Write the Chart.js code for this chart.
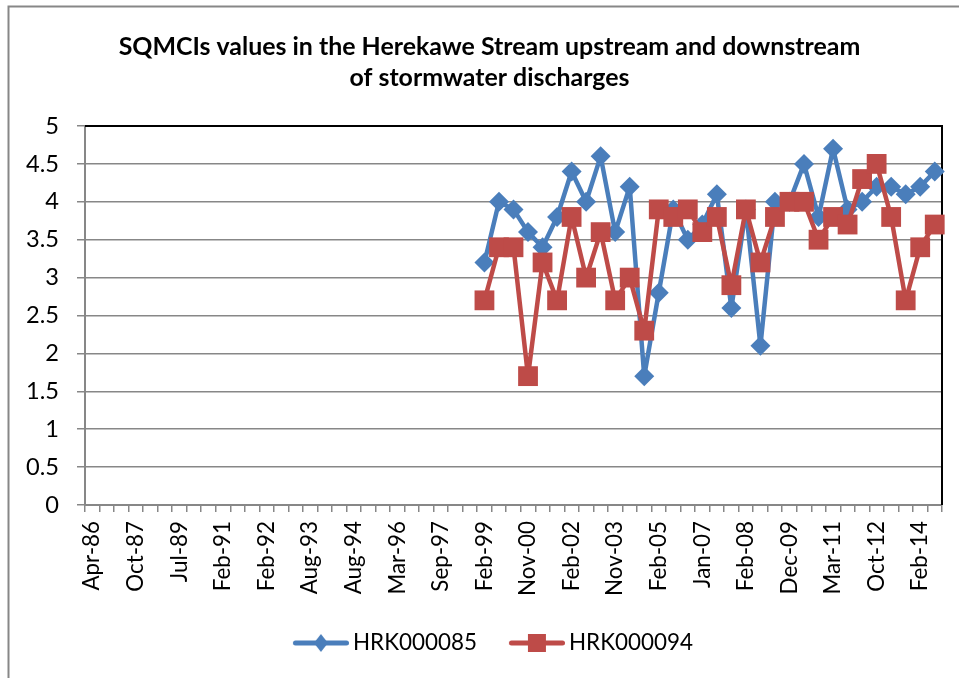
<!DOCTYPE html>
<html><head><meta charset="utf-8">
<script src="https://cdn.jsdelivr.net/npm/chart.js@4/dist/chart.umd.min.js"></script>
<style>html,body{margin:0;padding:0;background:#fff;overflow:hidden}</style>
</head><body>
<canvas id="c" width="959" height="678"></canvas>
<script>
// ---- data ----
const titleLines = ['SQMCIs values in the Herekawe Stream upstream and downstream', 'of stormwater discharges'];
const tickLabels = ['Apr-86','Oct-87','Jul-89','Feb-91','Feb-92','Aug-93','Aug-94','Mar-96','Sep-97','Feb-99',
                    'Nov-00','Feb-02','Nov-03','Feb-05','Jan-07','Feb-08','Dec-09','Mar-11','Oct-12','Feb-14'];
const categoryCount = 59;      // sampling occasions on the category axis
const labelEvery = 3;          // one date label per three categories
const unsampledBefore = 27;    // occasions with no value for either site
const seriesNames = ['HRK000085', 'HRK000094'];
const hrk000085 = [3.2, 4.0, 3.9, 3.6, 3.4, 3.8, 4.4, 4.0, 4.6, 3.6, 4.2, 1.7, 2.8, 3.9, 3.5, 3.7,
                   4.1, 2.6, 3.9, 2.1, 4.0, 4.0, 4.5, 3.8, 4.7, 3.9, 4.0, 4.2, 4.2, 4.1, 4.2, 4.4];
const hrk000094 = [2.7, 3.4, 3.4, 1.7, 3.2, 2.7, 3.8, 3.0, 3.6, 2.7, 3.0, 2.3, 3.9, 3.8, 3.9, 3.6,
                   3.8, 2.9, 3.9, 3.2, 3.8, 4.0, 4.0, 3.5, 3.8, 3.7, 4.3, 4.5, 3.8, 2.7, 3.4, 3.7];
const yMin = 0, yMax = 5, yStep = 0.5;

const categories = Array.from({length: categoryCount}, (_, i) => i % labelEvery === 0 ? tickLabels[i / labelEvery] : '');
const pad = v => Array(unsampledBefore).fill(null).concat(v);

// ---- styling helpers ----
const FAMILY = 'Lato';
const BLUE = '#4A7EBB', RED = '#BE4B48', GRAY = '#878787';
const mctx = document.createElement('canvas').getContext('2d');
function fit(text, weight, target) { mctx.font = weight + ' 100px ' + FAMILY; return 100 * target / mctx.measureText(text).width; }
function tw(text, weight, size) { mctx.font = weight + ' ' + size + 'px ' + FAMILY; return mctx.measureText(text).width; }
const titleSize = fit(titleLines[0], 'bold', 742);
const legendSize = fit(seriesNames[0], 'normal', 124);
const xTickSize = fit('Nov-00', 'normal', 75);
const yTickSize = fit('4.5', 'normal', 33);

// legend geometry (so text starts at ~353 and ~569)
const padL = 20, W = 959, H = 678;
const h = legendSize / 2;
const tw1 = tw(seriesNames[0], 'normal', legendSize), tw2 = tw(seriesNames[1], 'normal', legendSize);
const legPad = padL + W - tw1 - tw2 - 706;
const legBox = 216 - tw1 - h - legPad;
const imgW = Math.round(legBox + 2 * h - 8);
const legendTop = 643 - legPad - h;
const legendH = legendSize + legPad + 10;
const bottomPad = H - legendTop - legendH;
const xAxisH = legendTop - 505;

function legendImg(color, kind) {
  const cv = document.createElement('canvas');
  cv.width = imgW; cv.height = 22;
  const c = cv.getContext('2d');
  c.strokeStyle = color; c.fillStyle = color; c.lineWidth = 5; c.lineCap = 'round';
  c.beginPath(); c.moveTo(imgW - 56 + 2.5, 11); c.lineTo(imgW - 2.5, 11); c.stroke();
  const cx = imgW - 28;
  if (kind === 'diamond') {
    c.beginPath(); c.moveTo(cx, 2); c.lineTo(cx + 7, 11); c.lineTo(cx, 20); c.lineTo(cx - 7, 11); c.closePath(); c.fill();
  } else {
    c.fillRect(cx - 9, 2, 18, 18);
  }
  return cv;
}
const legendImgs = [legendImg(BLUE, 'diamond'), legendImg(RED, 'square')];

const framePlugin = {
  id: 'frame',
  beforeDraw(chart) {
    const c = chart.ctx;
    c.save();
    c.fillStyle = '#fff'; c.fillRect(0, 0, chart.width, chart.height);
    c.strokeStyle = GRAY; c.lineWidth = 2;
    c.beginPath(); c.moveTo(8.5, chart.height + 5); c.lineTo(8.5, 6.5); c.lineTo(chart.width + 5, 6.5); c.stroke();
    c.restore();
  },
  beforeDatasetsDraw(chart) {
    const c = chart.ctx, a = chart.chartArea;
    c.save();
    c.strokeStyle = '#000'; c.lineWidth = 2;
    c.beginPath(); c.moveTo(a.left, a.top); c.lineTo(a.right, a.top); c.lineTo(a.right, a.bottom); c.stroke();
    c.restore();
  }
};

new Chart(document.getElementById('c'), {
  type: 'line',
  data: {
    labels: categories,
    datasets: [
      { label: seriesNames[0], data: pad(hrk000085), borderColor: BLUE, backgroundColor: BLUE,
        borderWidth: 4.5, pointStyle: 'rectRot', pointRadius: 10, pointHoverRadius: 10,
        pointBackgroundColor: BLUE, pointBorderColor: BLUE, pointBorderWidth: 0, order: 1 },
      { label: seriesNames[1], data: pad(hrk000094), borderColor: RED, backgroundColor: RED,
        borderWidth: 4.5, pointStyle: 'rect', pointRadius: 14, pointHoverRadius: 14,
        pointBackgroundColor: RED, pointBorderColor: RED, pointBorderWidth: 0, order: 0 }
    ]
  },
  options: {
    responsive: false, animation: false, devicePixelRatio: 1,
    layout: { padding: { left: padL, right: 0, top: 0, bottom: bottomPad } },
    elements: { line: { tension: 0, borderCapStyle: 'round', borderJoinStyle: 'round' } },
    plugins: {
      tooltip: { enabled: false },
      title: {
        display: true, text: titleLines, color: '#000',
        font: { family: FAMILY, weight: 'bold', size: titleSize, lineHeight: '31px' },
        padding: { top: 31, bottom: 33 }
      },
      legend: {
        position: 'bottom',
        labels: {
          usePointStyle: true, pointStyleWidth: legBox, padding: legPad, color: '#000',
          font: { family: FAMILY, size: legendSize },
          sort: (a, b) => a.datasetIndex - b.datasetIndex,
          generateLabels(chart) {
            const items = Chart.defaults.plugins.legend.labels.generateLabels(chart);
            items.forEach(it => { it.pointStyle = legendImgs[it.datasetIndex]; });
            return items;
          }
        }
      }
    },
    scales: {
      x: {
        type: 'category', offset: true,
        grid: { display: true, drawOnChartArea: false, drawTicks: true, tickLength: 7, color: GRAY, lineWidth: 1.5, offset: true },
        border: { display: true, color: GRAY, width: 2 },
        ticks: { autoSkip: false, minRotation: 90, maxRotation: 90, padding: 9, color: '#000',
                 font: { family: FAMILY, size: xTickSize } },
        afterFit(s) { s.height = xAxisH; s.paddingLeft = 0; s.paddingRight = 0; }
      },
      y: {
        min: yMin, max: yMax,
        grid: { color: GRAY, lineWidth: 1.5, tickLength: 8 },
        border: { display: true, color: GRAY, width: 2 },
        ticks: { stepSize: yStep, padding: 18, color: '#000', font: { family: FAMILY, size: yTickSize },
                 callback: v => String(Number(v.toFixed(1))) },
        afterFit(s) { s.width = 85 - padL; }
      },
      yR: {
        type: 'linear', position: 'right', display: true,
        grid: { display: false }, border: { display: false }, ticks: { display: false },
        afterFit(s) { s.width = 17; }
      }
    }
  },
  plugins: [framePlugin]
});
</script>
</body></html>
